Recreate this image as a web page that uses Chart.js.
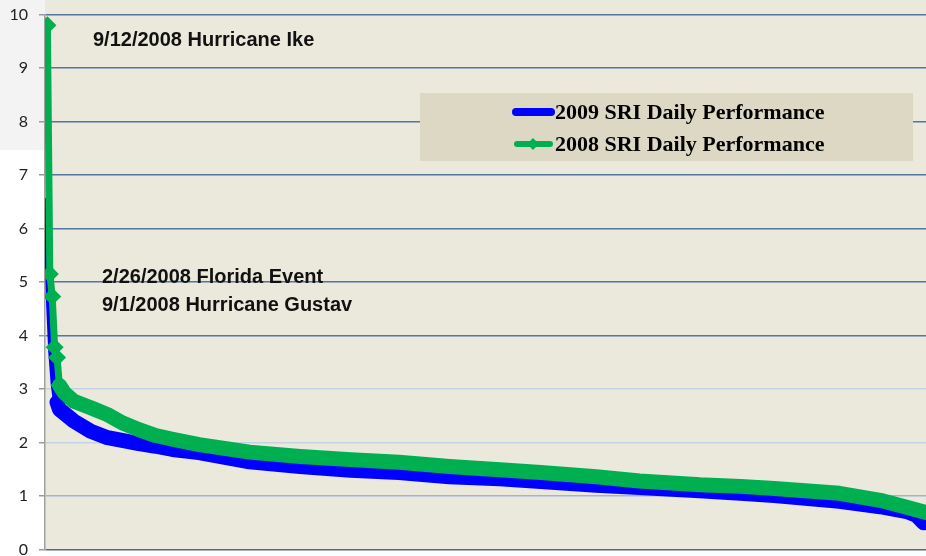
<!DOCTYPE html>
<html>
<head>
<meta charset="utf-8">
<script src="https://cdn.jsdelivr.net/npm/chart.js@4"></script>
<style>
  html, body { margin: 0; padding: 0; background: #fff; }
</style>
</head>
<body>
<canvas id="chart" width="926" height="556"></canvas>
<script>
// Daily SRI performance, sorted from highest to lowest day (x = rank of the day)
const days2009 = [0, 1, 2, 3, 4, 5, 11, 18, 25, 31, 38, 45, 52, 63, 84, 105, 126, 146, 167, 188, 205, 228, 246, 271, 288, 302, 329, 346, 357, 361, 364];
const values2009 = [6.5, 4.7, 3.7, 3.1, 2.75, 2.62, 2.40, 2.21, 2.09, 2.04, 1.98, 1.93, 1.87, 1.81, 1.64, 1.55, 1.48, 1.44, 1.36, 1.32, 1.27, 1.20, 1.16, 1.10, 1.05, 1.01, 0.90, 0.80, 0.71, 0.64, 0.50];

const days2008 = [0, 1, 2, 3, 4, 5, 7, 11, 18, 25, 31, 38, 45, 52, 63, 84, 105, 126, 146, 167, 188, 205, 228, 246, 271, 288, 302, 329, 346, 357, 365];
const values2008 = [9.8, 5.15, 4.73, 3.78, 3.59, 3.07, 2.93, 2.77, 2.65, 2.52, 2.37, 2.24, 2.13, 2.06, 1.96, 1.82, 1.74, 1.68, 1.63, 1.55, 1.49, 1.44, 1.36, 1.28, 1.21, 1.18, 1.14, 1.05, 0.92, 0.79, 0.69];

const yTicks = [0, 1, 2, 3, 4, 5, 6, 7, 8, 9, 10];

const seriesLabels = ['2009 SRI Daily Performance', '2008 SRI Daily Performance'];

const eventNotes = [
  { text: '9/12/2008 Hurricane Ike', x: 93, y: 40 },
  { text: '2/26/2008 Florida Event', x: 102, y: 277 },
  { text: '9/1/2008 Hurricane Gustav', x: 102, y: 305 }
];

function toPoints(xs, ys) {
  return xs.map((x, i) => ({ x: x, y: ys[i] }));
}

// gridline colours vary like in the original slide
function gridColor(value) {
  if (value === 0) return '#4a6a96';
  if (value === 1) return '#9fb5d3';
  if (value === 2 || value === 3) return '#c2d3e8';
  return '#5575a2';
}

// backgrounds behind the plot
const backdrop = {
  id: 'backdrop',
  beforeDraw(chart) {
    const ctx = chart.ctx;
    const area = chart.chartArea;
    ctx.save();
    ctx.fillStyle = '#ffffff';
    ctx.fillRect(0, 0, chart.width, chart.height);
    ctx.fillStyle = '#f3f3f3';
    ctx.fillRect(0, 0, area.left, 150);
    ctx.fillStyle = '#ebe8dc';
    ctx.fillRect(area.left, 0, chart.width - area.left, area.bottom);
    ctx.restore();
  }
};

// event labels and the boxed legend
const notesAndLegend = {
  id: 'notesAndLegend',
  afterDraw(chart) {
    const ctx = chart.ctx;
    ctx.save();
    ctx.fillStyle = '#111';
    ctx.font = 'bold 20px "Liberation Sans", Arial, sans-serif';
    ctx.textBaseline = 'middle';
    ctx.textAlign = 'left';
    eventNotes.forEach(n => ctx.fillText(n.text, n.x, n.y));

    // legend box
    ctx.fillStyle = '#dcd8c3';
    ctx.fillRect(420, 93, 493, 68);
    const ds = chart.data.datasets;
    const rows = [112, 144];
    ctx.lineCap = 'round';
    // 2009 line
    ctx.strokeStyle = ds[0].borderColor;
    ctx.lineWidth = 8;
    ctx.beginPath();
    ctx.moveTo(516, rows[0]);
    ctx.lineTo(551, rows[0]);
    ctx.stroke();
    // 2008 line + diamond
    ctx.strokeStyle = ds[1].borderColor;
    ctx.lineWidth = 6;
    ctx.beginPath();
    ctx.moveTo(517, rows[1]);
    ctx.lineTo(550, rows[1]);
    ctx.stroke();
    ctx.fillStyle = ds[1].borderColor;
    ctx.beginPath();
    ctx.moveTo(533, rows[1] - 6);
    ctx.lineTo(539, rows[1]);
    ctx.lineTo(533, rows[1] + 6);
    ctx.lineTo(527, rows[1]);
    ctx.closePath();
    ctx.fill();

    ctx.fillStyle = '#000';
    ctx.font = 'bold 22px "Liberation Serif", "Times New Roman", serif';
    ctx.fillText(ds[0].label, 555, rows[0] + 1);
    ctx.fillText(ds[1].label, 555, rows[1] + 1);
    ctx.restore();
  }
};

new Chart(document.getElementById('chart'), {
  type: 'line',
  data: {
    datasets: [
      {
        label: seriesLabels[0],
        data: toPoints(days2009, values2009),
        borderColor: '#0000ff',
        backgroundColor: '#0000ff',
        borderWidth: 15,
        borderCapStyle: 'round',
        borderJoinStyle: 'round',
        pointRadius: 0,
        tension: 0,
        order: 1,
        segment: {
          borderWidth: ctx => (ctx.p0DataIndex < 4 ? 8 : 15)
        }
      },
      {
        label: seriesLabels[1],
        data: toPoints(days2008, values2008),
        borderColor: '#00b050',
        backgroundColor: '#00b050',
        borderWidth: 15,
        borderCapStyle: 'round',
        borderJoinStyle: 'round',
        pointStyle: 'rectRot',
        pointRadius: ctx => (ctx.dataIndex < 6 ? 9 : 0),
        pointBorderWidth: 0,
        tension: 0,
        order: 0,
        segment: {
          borderWidth: ctx => (ctx.p0DataIndex < 5 ? 7 : 15)
        }
      }
    ]
  },
  options: {
    responsive: false,
    animation: false,
    layout: { autoPadding: false, padding: { top: 14.5, bottom: 6.5, left: 0, right: 0 } },
    plugins: {
      legend: { display: false },
      tooltip: { enabled: false }
    },
    scales: {
      x: {
        type: 'linear',
        min: -1,
        max: 365,
        display: false
      },
      y: {
        min: 0,
        max: 10,
        afterBuildTicks: scale => {
          scale.ticks = yTicks.map(v => ({ value: v }));
        },
        afterFit: scale => {
          scale.width = 45;
          scale.paddingTop = 0;
          scale.paddingBottom = 0;
        },
        ticks: {
          color: '#222',
          padding: 11,
          font: { family: 'Lato, "Noto Sans", sans-serif', size: 16 }
        },
        grid: {
          color: ctx => gridColor(ctx.tick ? ctx.tick.value : 0),
          lineWidth: 1.5,
          tickLength: 6,
          tickColor: '#9a9a9a'
        },
        border: { color: '#a0a0a0', width: 1.5 }
      }
    }
  },
  plugins: [backdrop, notesAndLegend]
});
</script>
</body>
</html>
